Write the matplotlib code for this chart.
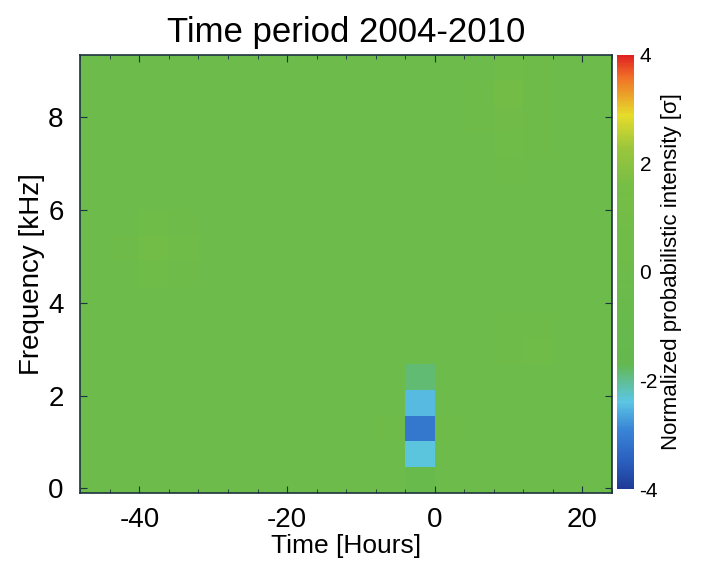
import numpy as np
import matplotlib
matplotlib.use('Agg')
import matplotlib.pyplot as plt
from matplotlib.colors import LinearSegmentedColormap
from matplotlib.ticker import MultipleLocator

plt.rcParams['font.family'] = ['Liberation Sans', 'DejaVu Sans']
plt.rcParams['axes.unicode_minus'] = False

# bin edges (hours relative to event, kHz)
time_edges = np.arange(-48, 25, 4)
freq_edges = np.linspace(-0.1, 9.35, 18)

# normalized probabilistic intensity, rows = frequency bins (low -> high), cols = time bins
intensity = np.array([
    [0.0, 0.0, 0.0, 0.0, 0.0, 0.0, 0.0, 0.0, 0.0, 0.0, 0.0, -0.8, 0.0, 0.0, 0.0, 0.0, 0.0, 0.0],
    [0.0, 0.0, 0.0, 0.0, 0.0, 0.0, 0.0, 0.0, 0.0, 0.0, 0.0, -2.35, 0.0, 0.0, 0.0, 0.0, 0.0, 0.0],
    [0.0, 0.0, 0.0, 0.0, 0.0, 0.0, 0.0, 0.0, 0.0, 0.0, 0.1, -3.1, 0.1, 0.0, 0.0, 0.0, 0.0, 0.0],
    [0.0, 0.0, 0.0, 0.0, 0.0, 0.0, 0.0, 0.0, 0.0, 0.0, 0.0, -2.5, 0.0, 0.0, 0.0, 0.0, 0.0, 0.0],
    [0.0, 0.0, 0.0, 0.0, 0.0, 0.0, 0.0, 0.0, 0.0, 0.0, 0.0, -1.85, 0.0, 0.0, 0.0, 0.0, 0.0, 0.0],
    [0.0, 0.0, 0.0, 0.0, 0.0, 0.0, 0.0, 0.0, 0.0, 0.0, 0.0, 0.0, 0.0, 0.0, 0.2, 0.3, 0.0, 0.0],
    [0.0, 0.0, 0.0, 0.0, 0.0, 0.0, 0.0, 0.0, 0.0, 0.0, 0.0, 0.0, 0.0, 0.0, 0.1, 0.2, 0.0, 0.0],
    [0.0, 0.0, 0.0, 0.0, 0.0, 0.0, 0.0, 0.0, 0.0, 0.0, 0.0, 0.0, 0.0, 0.0, 0.0, 0.0, 0.0, 0.0],
    [0.0, 0.0, 0.3, 0.1, 0.0, 0.0, 0.0, 0.0, 0.0, 0.0, 0.0, 0.0, 0.0, 0.0, 0.0, 0.0, 0.0, 0.0],
    [0.0, 0.2, 0.9, 0.3, 0.0, 0.0, 0.0, 0.0, 0.0, 0.0, 0.0, 0.0, 0.0, 0.0, 0.0, 0.0, 0.0, 0.0],
    [0.0, 0.0, 0.4, 0.1, 0.0, 0.0, 0.0, 0.0, 0.0, 0.0, 0.0, 0.0, 0.0, 0.0, 0.0, 0.0, 0.0, 0.0],
    [0.0, 0.0, 0.0, 0.0, 0.0, 0.0, 0.0, 0.0, 0.0, 0.0, 0.0, 0.0, 0.0, 0.0, 0.0, 0.0, 0.0, 0.0],
    [0.0, 0.0, 0.0, 0.0, 0.0, 0.0, 0.0, 0.0, 0.0, 0.0, 0.0, 0.0, 0.0, 0.0, 0.1, 0.0, 0.0, 0.0],
    [0.0, 0.0, 0.0, 0.0, 0.0, 0.0, 0.0, 0.0, 0.0, 0.0, 0.0, 0.0, 0.0, 0.0, 0.3, 0.1, 0.0, 0.0],
    [0.0, 0.0, 0.0, 0.0, 0.0, 0.0, 0.0, 0.0, 0.0, 0.0, 0.0, 0.0, 0.0, 0.1, 0.7, 0.2, 0.0, 0.0],
    [0.0, 0.0, 0.0, 0.0, 0.0, 0.0, 0.0, 0.0, 0.0, 0.0, 0.0, 0.0, 0.0, 0.1, 1.0, 0.2, 0.0, 0.0],
    [0.0, 0.0, 0.0, 0.0, 0.0, 0.0, 0.0, 0.0, 0.0, 0.0, 0.0, 0.0, 0.0, 0.0, 0.5, 0.1, 0.0, 0.0],
])

vmin, vmax = -4, 4
cmap_stops = [
    (-4.0, '#1e3c96'),
    (-3.5, '#2a5fbe'),
    (-2.9, '#3a86d6'),
    (-2.4, '#5cc6e4'),
    (-2.05, '#5fbf9c'),
    (-1.7, '#64b84e'),
    (1.6, '#76be46'),
    (2.3, '#9cc63c'),
    (2.9, '#e6dc2a'),
    (3.6, '#f07028'),
    (4.0, '#e02222'),
]
cmap = LinearSegmentedColormap.from_list(
    'sigma', [((v - vmin) / (vmax - vmin), c) for v, c in cmap_stops])

fig = plt.figure(figsize=(7.18, 5.66), dpi=100)
ax = fig.add_axes([0.112, 0.129, 0.740, 0.774])
cax = fig.add_axes([0.860, 0.136, 0.023, 0.767])

mesh = ax.pcolormesh(time_edges, freq_edges, intensity, cmap=cmap,
                     vmin=vmin, vmax=vmax, shading='flat')
ax.set_xlim(-48, 24)
ax.set_ylim(-0.1, 9.35)

ax.set_title('Time period 2004-2010', fontsize=25, pad=9)
ax.set_xlabel('Time [Hours]', fontsize=19, labelpad=1)
ax.set_ylabel('Frequency [kHz]', fontsize=20, labelpad=2)
ax.set_xticks([-40, -20, 0, 20])
ax.set_yticks([0, 2, 4, 6, 8])
ax.xaxis.set_minor_locator(MultipleLocator(4))
ax.tick_params(which='both', direction='in', top=True, right=True,
               color='#1c3340', labelsize=20)
ax.tick_params(which='major', length=5, pad=10)
ax.tick_params(which='minor', length=3)
ax.tick_params(axis='y', pad=12)
for s in ax.spines.values():
    s.set_color('#1c3340')
    s.set_linewidth(1.2)

cbar = fig.colorbar(mesh, cax=cax, ticks=[-4, -2, 0, 2, 4])
cbar.outline.set_linewidth(0)
cbar.ax.tick_params(length=0, labelsize=15, pad=4)
cbar.set_label('Normalized probabilistic intensity [σ]', fontsize=16, labelpad=2)

fig.savefig('out.png', dpi=100)
